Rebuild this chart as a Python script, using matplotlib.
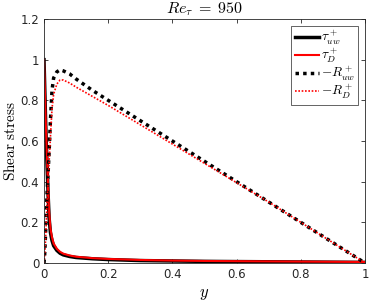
import numpy as np
import matplotlib.pyplot as plt

plt.rcParams['mathtext.fontset'] = 'cm'
plt.rcParams['font.family'] = 'DejaVu Sans'

# wall-normal positions (outer units)
y = [0.0, 0.002, 0.005, 0.008, 0.01, 0.013, 0.016, 0.02, 0.025, 0.03,
     0.04, 0.05, 0.06, 0.08, 0.1, 0.15, 0.2, 0.3, 0.4, 0.5,
     0.6, 0.7, 0.8, 0.9, 1.0]

# viscous stress
tau_uw = [1.0, 0.88, 0.70, 0.55, 0.46, 0.33, 0.22, 0.15, 0.11, 0.085,
          0.062, 0.048, 0.040, 0.032, 0.027, 0.021, 0.017, 0.012, 0.010, 0.008,
          0.007, 0.006, 0.005, 0.004, 0.003]
tau_D = [1.0, 0.89, 0.72, 0.58, 0.49, 0.36, 0.25, 0.17, 0.125, 0.096,
         0.070, 0.055, 0.046, 0.037, 0.031, 0.024, 0.020, 0.015, 0.012, 0.010,
         0.009, 0.008, 0.007, 0.006, 0.005]

# Reynolds stress
R_uw = [0.0, 0.04, 0.15, 0.28, 0.36, 0.45, 0.55, 0.70, 0.85, 0.91,
        0.94, 0.95, 0.945, 0.93, 0.905, 0.85, 0.80, 0.70, 0.60, 0.50,
        0.40, 0.30, 0.20, 0.10, 0.0]
R_D = [0.0, 0.03, 0.12, 0.24, 0.32, 0.41, 0.50, 0.62, 0.76, 0.83,
       0.88, 0.90, 0.90, 0.885, 0.865, 0.82, 0.775, 0.68, 0.585, 0.49,
       0.395, 0.30, 0.20, 0.10, 0.0]

fig = plt.figure(figsize=(3.69, 3.05), dpi=100)
ax = fig.add_axes([44 / 369, 42 / 305, 321 / 369, 244 / 305])

ax.plot(y, tau_uw, color='black', lw=2.5, label=r'$\tau_{uw}^+$')
ax.plot(y, tau_D, color='red', lw=1.5, label=r'$\tau_D^+$')
ax.plot(y, R_uw, color='black', lw=2.5, ls=(0, (1, 1.2)), label=r'$-R_{uw}^+$')
ax.plot(y, R_D, color='red', lw=1.2, ls=(0, (1, 1)), label=r'$-R_D^+$')

ax.set_xlim(0, 1)
ax.set_ylim(0, 1.2)
ax.set_xticks([0, 0.2, 0.4, 0.6, 0.8, 1])
ax.set_xticklabels(['0', '0.2', '0.4', '0.6', '0.8', '1'])
ax.set_yticks([0, 0.2, 0.4, 0.6, 0.8, 1, 1.2])
ax.set_yticklabels(['0', '0.2', '0.4', '0.6', '0.8', '1', '1.2'])
ax.tick_params(direction='in', top=True, right=True, labelsize=8.5,
               colors='#262626', length=3, width=0.6)
for s in ax.spines.values():
    s.set_color('#262626')
    s.set_linewidth(0.6)

ax.set_title(r'$Re_\tau\;=\;950$', fontsize=11.5, pad=4)
ax.set_xlabel(r'$y$', fontsize=12, labelpad=2)
ax.set_ylabel(r'$\mathrm{Shear\ stress}$', fontsize=11, labelpad=2)

leg = ax.legend(loc='upper right', fontsize=9.5, handlelength=1.8,
                handletextpad=0.2, labelspacing=0.0, borderpad=0.25,
                borderaxespad=0.5, fancybox=False, framealpha=1)
leg.get_frame().set_edgecolor('#262626')
leg.get_frame().set_linewidth(0.5)

fig.savefig('out.png', dpi=100)
